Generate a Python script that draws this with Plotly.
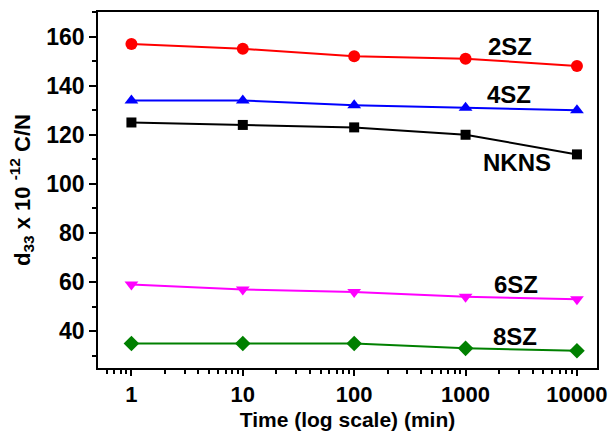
import math
import plotly.graph_objects as go

time_min = [1, 10, 100, 1000, 10000]
d33_2SZ = [157, 155, 152, 151, 148]
d33_4SZ = [134, 134, 132, 131, 130]
d33_NKNS = [125, 124, 123, 120, 112]
d33_6SZ = [59, 57, 56, 54, 53]
d33_8SZ = [35, 35, 35, 33, 32]

series = [
    ("NKNS", d33_NKNS, "black", "square"),
    ("2SZ", d33_2SZ, "red", "circle"),
    ("4SZ", d33_4SZ, "blue", "triangle-up"),
    ("6SZ", d33_6SZ, "magenta", "triangle-down"),
    ("8SZ", d33_8SZ, "green", "diamond"),
]

label_names = ["2SZ", "4SZ", "NKNS", "6SZ", "8SZ"]
label_x = [2500, 2450, 2900, 2850, 2750]  # minutes
label_y = [156, 136.2, 108.9, 59.0, 37.8]

fig = go.Figure()
for name, vals, color, sym in series:
    fig.add_trace(go.Scatter(
        x=time_min, y=vals, mode="lines+markers", name=name,
        line=dict(color=color, width=2),
        marker=dict(symbol=sym, size=12 if sym != "square" else 10, color=color),
        showlegend=False,
    ))

for n, lx, ly in zip(label_names, label_x, label_y):
    fig.add_annotation(x=math.log10(lx), y=ly, xref="x", yref="y", text="<b>%s</b>" % n,
                       showarrow=False, font=dict(size=24, color="black",
                                                   family="Liberation Sans, Arial"))

fig.update_layout(
    width=612, height=431,
    margin=dict(l=98, r=15, t=12, b=63),
    paper_bgcolor="white", plot_bgcolor="white",
    font=dict(family="Liberation Sans, Arial", color="black"),
)
fig.update_xaxes(
    type="log", range=[-0.3, 4.18], automargin=False,
    tickvals=time_min, ticktext=["<b>%d</b>" % v for v in time_min],
    tickfont=dict(size=22, color="black"),
    ticks="outside", ticklen=6, tickwidth=1.5, tickcolor="black",
    minor=dict(ticks="outside", ticklen=4, tickcolor="black", dtick="D1", showgrid=False),
    showline=True, linecolor="black", linewidth=1.5, mirror=True,
    showgrid=False, zeroline=False,
    title=dict(text="<b>Time (log scale) (min)</b>", font=dict(size=21), standoff=9),
)
fig.update_yaxes(
    range=[25, 170], automargin=False,
    tickvals=[40, 60, 80, 100, 120, 140, 160],
    ticktext=["<b>%d</b>" % v for v in [40, 60, 80, 100, 120, 140, 160]],
    tickfont=dict(size=23, color="black"),
    ticks="outside", ticklen=7, tickwidth=1.5, tickcolor="black",
    minor=dict(ticks="outside", ticklen=4, tickcolor="black", dtick=10, showgrid=False),
    showline=True, linecolor="black", linewidth=1.5, mirror=True,
    showgrid=False, zeroline=False,
    title=dict(text="<b>d<sub>33</sub> x 10 <sup>-12</sup> C/N</b>", font=dict(size=22), standoff=10),
)
fig.write_html("out.html")
